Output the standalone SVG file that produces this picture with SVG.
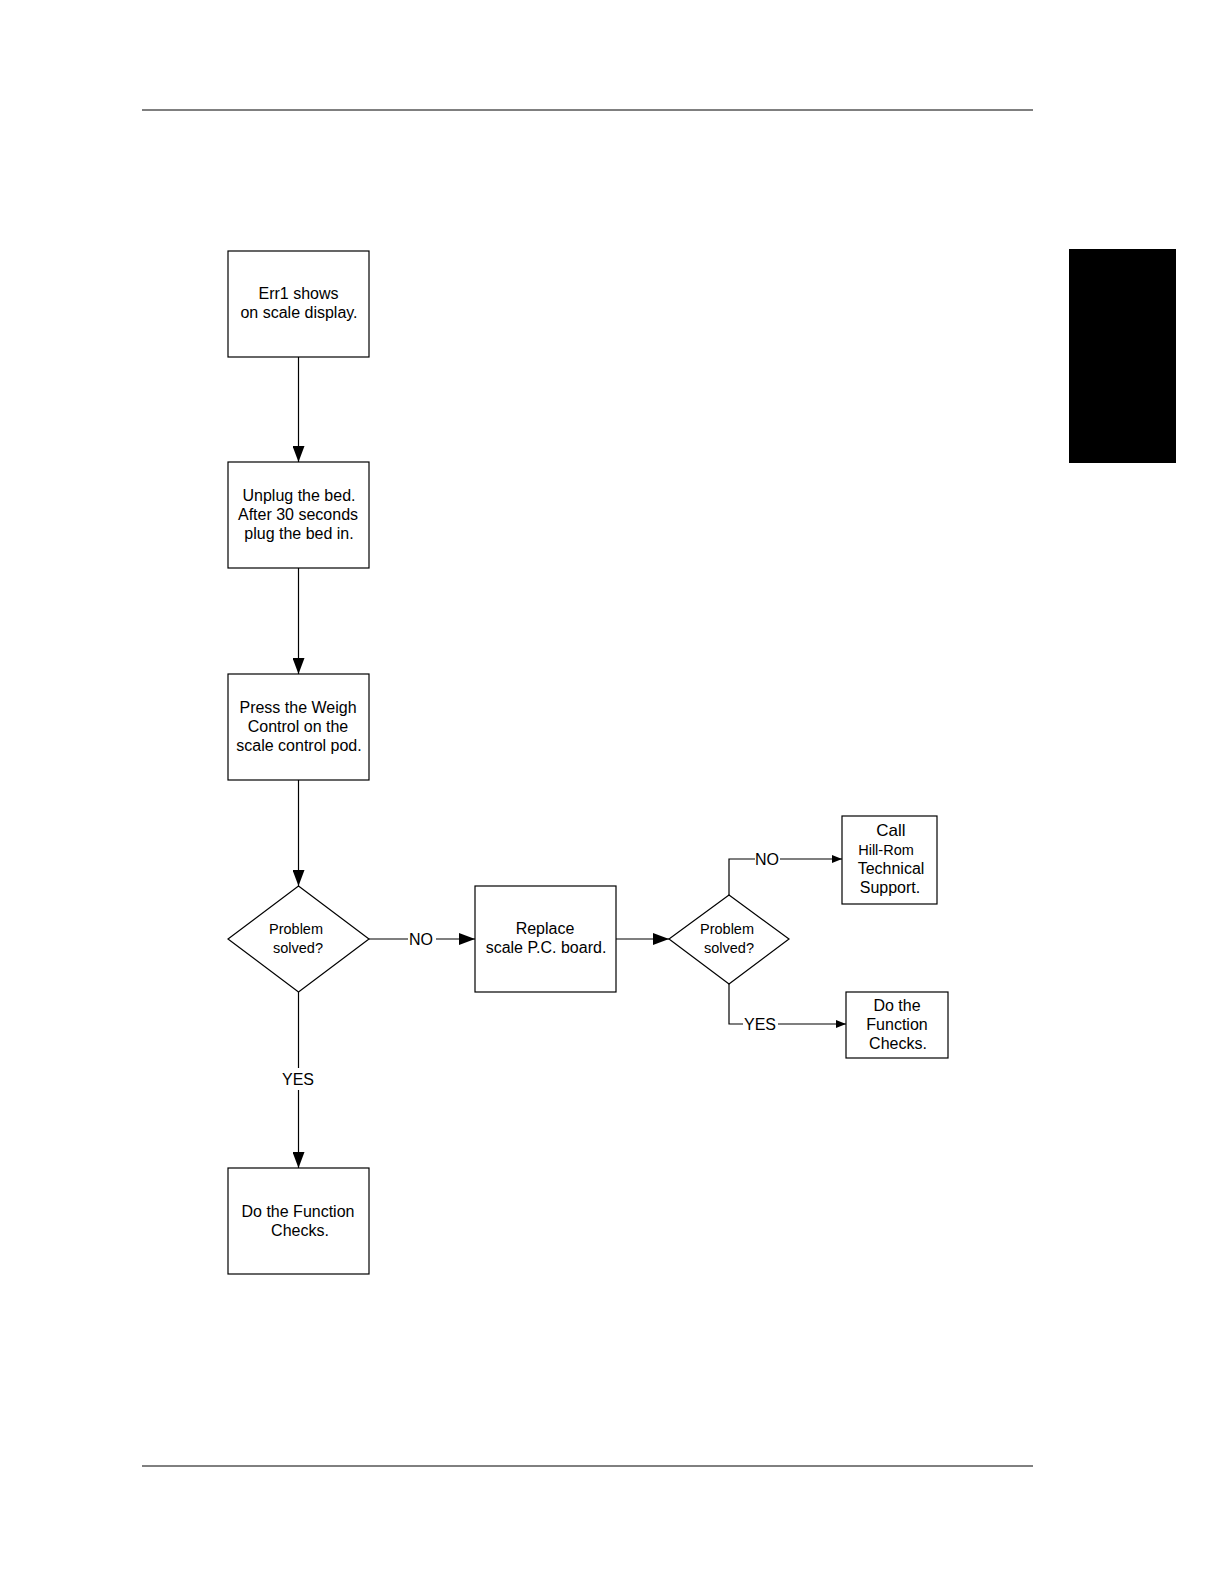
<svg xmlns="http://www.w3.org/2000/svg" width="1224" height="1584" viewBox="0 0 1224 1584">
<style>
.n{fill:#fff;stroke:#000;stroke-width:1.2}
.t{font-family:"Liberation Sans",Arial,sans-serif;font-size:16px;fill:#000;text-anchor:middle}
.s{font-size:14.5px}
.c{fill:none;stroke:#000;stroke-width:1.2}
</style>
<defs>
<marker id="big" markerWidth="16" markerHeight="12" refX="16" refY="6" orient="auto" markerUnits="userSpaceOnUse"><path d="M0,0 L16,6 L0,12 Z" fill="#000"/></marker>
<marker id="sm" markerWidth="10" markerHeight="8" refX="10" refY="4" orient="auto" markerUnits="userSpaceOnUse"><path d="M0,0 L10,4 L0,8 Z" fill="#000"/></marker>
</defs>
<rect width="1224" height="1584" fill="#fff"/>
<line x1="142" y1="110" x2="1033" y2="110" stroke="#000" stroke-width="1"/>
<line x1="142" y1="1466" x2="1033" y2="1466" stroke="#000" stroke-width="1"/>
<rect x="1069" y="249" width="107" height="214" fill="#000"/>

<g id="connectors">
<line class="c" x1="298.5" y1="357" x2="298.5" y2="462" marker-end="url(#big)"/>
<line class="c" x1="298.5" y1="568" x2="298.5" y2="674" marker-end="url(#big)"/>
<line class="c" x1="298.5" y1="780" x2="298.5" y2="886" marker-end="url(#big)"/>
<line class="c" x1="369" y1="939" x2="408" y2="939"/>
<line class="c" x1="436" y1="939" x2="475" y2="939" marker-end="url(#big)"/>
<text class="t" x="421" y="944.5">NO</text>
<line class="c" x1="616" y1="939" x2="669" y2="939" marker-end="url(#big)"/>
<line class="c" x1="298.5" y1="992" x2="298.5" y2="1068"/>
<line class="c" x1="298.5" y1="1090" x2="298.5" y2="1168" marker-end="url(#big)"/>
<text class="t" x="298" y="1085">YES</text>
<polyline class="c" points="729,895 729,859 755,859"/>
<text class="t" x="767" y="864.5">NO</text>
<line class="c" x1="780" y1="859" x2="842" y2="859" marker-end="url(#sm)"/>
<polyline class="c" points="729,984 729,1024 743,1024"/>
<text class="t" x="760" y="1029.5">YES</text>
<line class="c" x1="778" y1="1024" x2="846" y2="1024" marker-end="url(#sm)"/>
</g>

<g id="n1"><rect class="n" x="228" y="251" width="141" height="106"/>
<text class="t" x="298.5" y="299">Err1 shows</text><text class="t" x="299" y="318">on scale display.</text></g>
<g id="n2"><rect class="n" x="228" y="462" width="141" height="106"/>
<text class="t" x="299" y="501">Unplug the bed.</text><text class="t" x="298" y="520">After 30 seconds</text><text class="t" x="299" y="539">plug the bed in.</text></g>
<g id="n3"><rect class="n" x="228" y="674" width="141" height="106"/>
<text class="t" x="298" y="713">Press the Weigh</text><text class="t" x="298" y="732">Control on the</text><text class="t" x="299" y="751">scale control pod.</text></g>
<g id="d1"><polygon class="n" points="298.5,886 369,939 298.5,992 228,939"/>
<text class="t s" x="296" y="934">Problem</text><text class="t s" x="298" y="953">solved?</text></g>
<g id="n4"><rect class="n" x="475" y="886" width="141" height="106"/>
<text class="t" x="545" y="934">Replace</text><text class="t" x="546" y="953">scale P.C. board.</text></g>
<g id="d2"><polygon class="n" points="729,895 789,939 729,984 669,939"/>
<text class="t s" x="727" y="934">Problem</text><text class="t s" x="729" y="953">solved?</text></g>
<g id="n5"><rect class="n" x="842" y="816" width="95" height="88"/>
<text class="t" x="891" y="836" style="font-size:17px">Call</text><text class="t s" x="886" y="855">Hill-Rom</text><text class="t" x="891" y="874">Technical</text><text class="t" x="890" y="893">Support.</text></g>
<g id="n6"><rect class="n" x="846" y="992" width="102" height="66"/>
<text class="t" x="897" y="1011">Do the</text><text class="t" x="897" y="1030">Function</text><text class="t" x="898" y="1049">Checks.</text></g>
<g id="n7"><rect class="n" x="228" y="1168" width="141" height="106"/>
<text class="t" x="298" y="1217">Do the Function</text><text class="t" x="300" y="1236">Checks.</text></g>
</svg>
